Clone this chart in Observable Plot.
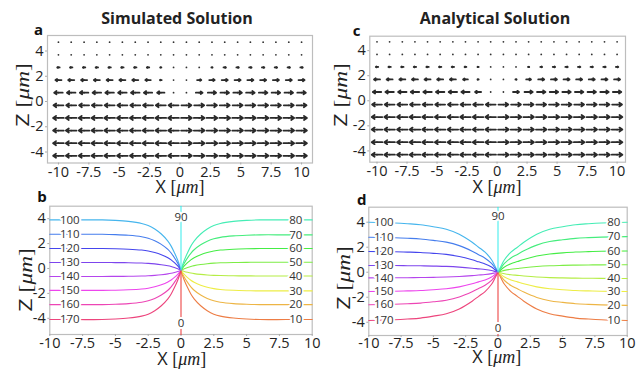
<!DOCTYPE html>
<html><head><meta charset="utf-8">
<script src="https://cdn.jsdelivr.net/npm/d3@7"></script>
<script src="https://cdn.jsdelivr.net/npm/@observablehq/plot@0.6"></script>
<style>
body{margin:0;background:#fff;}
#root{position:relative;width:636px;height:371px;overflow:hidden;background:#fff;}
#root svg{position:absolute;}
</style></head><body><div id="root"></div>
<script>
// ---------- data ----------
const xTicks = [-10, -7.5, -5, -2.5, 0, 2.5, 5, 7.5, 10];
const zTicks = [-4, -2, 0, 2, 4];

// quiver grid (panels a, c)
const quiverX = [-10, -8.95, -7.89, -6.84, -5.79, -4.74, -3.68, -2.63, -1.58, -0.53,
                 0.53, 1.58, 2.63, 3.68, 4.74, 5.79, 6.84, 7.89, 8.95, 10];
const quiverZ = [4.7, 3.7, 2.7, 1.7, 0.7, -0.3, -1.3, -2.3, -3.3, -4.3];

// horizontal field component (arrow length, x units) per row
const simU = [
  [0,0,0,0,0,0,0,0,0,0, 0,0,0,0,0,0,0,0,0,0],
  [0,0,0,0,0,0,0,0,0,0, 0,0,0,0,0,0,0,0,0,0],
  [-0.2,-0.2,-0.2,-0.2,-0.2,-0.2,-0.2,-0.2,-0.1,0, 0,0,0.1,0.2,0.2,0.2,0.2,0.2,0.2,0.2],
  [-0.5,-0.5,-0.5,-0.5,-0.5,-0.5,-0.5,-0.45,-0.15,0, 0,0.35,0.45,0.5,0.5,0.5,0.5,0.5,0.5,0.5],
  [-0.7,-0.7,-0.7,-0.7,-0.7,-0.7,-0.7,-0.68,-0.6,0, 0,0.55,0.68,0.7,0.7,0.7,0.7,0.7,0.7,0.7],
  [-0.82,-0.82,-0.82,-0.82,-0.82,-0.82,-0.82,-0.82,-0.82,-0.82, 0.82,0.82,0.82,0.82,0.82,0.82,0.82,0.82,0.82,0.82],
  [-0.88,-0.88,-0.88,-0.88,-0.88,-0.88,-0.88,-0.88,-0.88,-0.88, 0.88,0.88,0.88,0.88,0.88,0.88,0.88,0.88,0.88,0.88],
  [-0.88,-0.88,-0.88,-0.88,-0.88,-0.88,-0.88,-0.88,-0.88,-0.88, 0.88,0.88,0.88,0.88,0.88,0.88,0.88,0.88,0.88,0.88],
  [-0.88,-0.88,-0.88,-0.88,-0.88,-0.88,-0.88,-0.88,-0.88,-0.88, 0.88,0.88,0.88,0.88,0.88,0.88,0.88,0.88,0.88,0.88],
  [-0.88,-0.88,-0.88,-0.88,-0.88,-0.88,-0.88,-0.88,-0.88,-0.88, 0.88,0.88,0.88,0.88,0.88,0.88,0.88,0.88,0.88,0.88]
];
const anaU = [
  [0,0,0,0,0,0,0,0,0,0, 0,0,0,0,0,0,0,0,0,0],
  [0,0,0,0,0,0,0,0,0,0, 0,0,0,0,0,0,0,0,0,0],
  [-0.2,-0.2,-0.2,-0.2,-0.2,-0.2,-0.2,-0.15,-0.1,0, 0,0,0.1,0.15,0.2,0.2,0.2,0.2,0.2,0.2],
  [-0.5,-0.5,-0.5,-0.5,-0.5,-0.5,-0.5,-0.4,-0.1,0, 0,0.1,0.4,0.5,0.5,0.5,0.5,0.5,0.5,0.5],
  [-0.7,-0.7,-0.7,-0.7,-0.7,-0.7,-0.7,-0.68,-0.5,0, 0,0.5,0.68,0.7,0.7,0.7,0.7,0.7,0.7,0.7],
  [-0.82,-0.82,-0.82,-0.82,-0.82,-0.82,-0.82,-0.82,-0.82,-0.82, 0.82,0.82,0.82,0.82,0.82,0.82,0.82,0.82,0.82,0.82],
  [-0.88,-0.88,-0.88,-0.88,-0.88,-0.88,-0.88,-0.88,-0.88,-0.88, 0.88,0.88,0.88,0.88,0.88,0.88,0.88,0.88,0.88,0.88],
  [-0.88,-0.88,-0.88,-0.88,-0.88,-0.88,-0.88,-0.88,-0.88,-0.88, 0.88,0.88,0.88,0.88,0.88,0.88,0.88,0.88,0.88,0.88],
  [-0.88,-0.88,-0.88,-0.88,-0.88,-0.88,-0.88,-0.88,-0.88,-0.88, 0.88,0.88,0.88,0.88,0.88,0.88,0.88,0.88,0.88,0.88],
  [-0.88,-0.88,-0.88,-0.88,-0.88,-0.88,-0.88,-0.88,-0.88,-0.88, 0.88,0.88,0.88,0.88,0.88,0.88,0.88,0.88,0.88,0.88]
];

// iso-angle lines (panels b, d)
const curveAngles = [10, 20, 30, 40, 50, 60, 70, 80, 100, 110, 120, 130, 140, 150, 160, 170];
const simLevels = [-4.1, -2.9, -1.8, -0.6, 0.5, 1.6, 2.7, 3.9, 3.9, 2.75, 1.6, 0.48, -0.64, -1.76, -2.9, -4.1];
const anaLevels = [-3.86, -2.65, -1.54, -0.5, 0.6, 1.7, 2.85, 4.0, 4.0, 2.8, 1.66, 0.54, -0.45, -1.54, -2.6, -3.86];
const simCenterZ = -0.15;
const anaCenterZ = 0;
// read-off shape of a line: fraction of its final height reached at distance |x|
const simProfileX = [0, 0.1, 0.25, 0.5, 0.75, 1, 1.5, 2, 2.5, 3, 4, 5, 6, 8, 10];
const simProfileF = [0, 0.09, 0.2, 0.35, 0.48, 0.58, 0.72, 0.82, 0.89, 0.93, 0.97, 0.99, 1, 1, 1];
const anaProfileX = [0, 0.25, 0.5, 1, 1.5, 2, 3, 4, 5, 6, 7, 8, 10];
const anaProfileF = [0, 0.13, 0.25, 0.4, 0.5, 0.6, 0.76, 0.86, 0.91, 0.95, 0.97, 0.985, 1];
const verticalAngles = [0, 90];

// ---------- drawing ----------
const root = document.getElementById("root");
const FONT = "'Open Sans', sans-serif";
const fmt = d => String(d);

function place(svg, left, top) {
  svg.style.left = left + "px";
  svg.style.top = top + "px";
  root.appendChild(svg);
}

function axes(box) {
  return [
    Plot.frame({stroke: "#bdbdbd", strokeWidth: 1.2}),
    Plot.axisX({ticks: xTicks, tickFormat: fmt, tickSize: 2, tickPadding: box.px, label: null, stroke: "#aaa", fill: "#222", fontSize: 14.5}),
    Plot.axisY({ticks: zTicks, tickFormat: fmt, tickSize: 2, tickPadding: 2, label: null, stroke: "#aaa", fill: "#222", fontSize: 14.5})
  ];
}

function quiverPanel(U, box) {
  const cells = [];
  quiverZ.forEach((z, i) => quiverX.forEach((x, j) => cells.push({x, z, u: U[i][j]})));
  const arrows = cells.filter(d => d.u !== 0);
  return Plot.plot({
    width: box.w, height: box.h,
    marginLeft: box.ml, marginRight: box.mr, marginTop: box.mt, marginBottom: box.mb,
    x: {domain: box.xd},
    y: {domain: box.yd},
    style: {fontFamily: FONT, fontSize: "14.5px", background: "transparent", overflow: "visible"},
    marks: [
      ...axes(box),
      Plot.dot(cells, {x: "x", y: "z", r: 0.9, fill: "#333"}),
      Plot.arrow(arrows, {
        x1: d => d.x - d.u / 2, x2: d => d.x + d.u / 2, y1: "z", y2: "z",
        stroke: "#2a2a2a", strokeWidth: 1.8, headLength: 5, headAngle: 70
      })
    ]
  });
}

function hue(a) { return d3.hsl(2 * a, 0.82, 0.6).formatHex(); }

function linesPanel(levels, centerZ, profX, profF, lab, box) {
  const pts = [];
  curveAngles.forEach((a, k) => {
    const side = a < 90 ? 1 : -1;
    profX.forEach((px, i) => pts.push({angle: a, x: side * px, z: centerZ + (levels[k] - centerZ) * profF[i]}));
  });
  const verts = [];
  verticalAngles.forEach(a => {
    verts.push({angle: a, x: 0, z: centerZ});
    verts.push({angle: a, x: 0, z: a === 90 ? box.yd[1] : box.yd[0]});
  });
  const labels = curveAngles.map((a, k) => ({angle: a, x: a < 90 ? lab.right : lab.left, z: levels[k]}));
  labels.push({angle: 90, x: 0, z: lab.z90}, {angle: 0, x: 0, z: lab.z0});
  return Plot.plot({
    width: box.w, height: box.h,
    marginLeft: box.ml, marginRight: box.mr, marginTop: box.mt, marginBottom: box.mb,
    x: {domain: box.xd},
    y: {domain: box.yd},
    color: {type: "identity"},
    style: {fontFamily: FONT, fontSize: "14.5px", background: "transparent", overflow: "visible"},
    marks: [
      ...axes(box),
      Plot.line(pts, {x: "x", y: "z", z: "angle", stroke: d => hue(d.angle), strokeWidth: 1.1, curve: "catmull-rom"}),
      Plot.line(verts, {x: "x", y: "z", z: "angle", stroke: d => hue(d.angle), strokeWidth: 1.1}),
      Plot.text(labels, {x: "x", y: "z", text: d => String(d.angle), fill: "#333", stroke: "white",
        strokeWidth: 4, paintOrder: "stroke", fontSize: 11.5, fontFamily: FONT})
    ]
  });
}

place(quiverPanel(simU, {w: 318, h: 185, ml: 47, mr: 6, mt: 35, mb: 22.5, xd: [-10.9, 10.9], yd: [-4.87, 5.23], px: 2}), 0, 0);
place(quiverPanel(anaU, {w: 318, h: 185, ml: 51.3, mr: 11, mt: 35.7, mb: 23.3, xd: [-10.6, 10.7], yd: [-4.9, 5.15], px: 2}), 318, 0);
place(linesPanel(simLevels, simCenterZ, simProfileX, simProfileF, {left: -8.48, right: 8.75, z90: 4.08, z0: -4.4},
  {w: 318, h: 186, ml: 49.3, mr: 6.3, mt: 20.7, mb: 37, xd: [-10, 10], yd: [-5.3, 5.0], px: 0.8}), 0, 185);
place(linesPanel(anaLevels, anaCenterZ, anaProfileX, anaProfileF, {left: -8.84, right: 8.96, z90: 4.5, z0: -4.5},
  {w: 318, h: 186, ml: 50.3, mr: 9.3, mt: 21.7, mb: 36, xd: [-10, 10], yd: [-5.06, 5.2], px: 0.2}), 318, 185);

// ---------- titles, panel letters, axis labels ----------
const ov = d3.create("svg").attr("width", 636).attr("height", 371)
  .style("left", "0px").style("top", "0px").style("pointer-events", "none");
const titles = [
  {t: "Simulated Solution", x: 177, y: 24},
  {t: "Analytical Solution", x: 495, y: 24}
];
ov.selectAll("text.title").data(titles).join("text")
  .attr("x", d => d.x).attr("y", d => d.y).attr("text-anchor", "middle")
  .attr("font-family", FONT).attr("font-weight", "bold").attr("font-size", 16).attr("fill", "#222")
  .text(d => d.t);
const letters = [
  {t: "a", x: 38.5, y: 34.5}, {t: "c", x: 356.7, y: 35.5},
  {t: "b", x: 42, y: 202}, {t: "d", x: 361.7, y: 205}
];
ov.selectAll("text.letter").data(letters).join("text")
  .attr("x", d => d.x).attr("y", d => d.y).attr("text-anchor", "middle")
  .attr("font-family", FONT).attr("font-weight", "bold").attr("font-size", 15).attr("fill", "#111")
  .text(d => d.t);

function axisLabel(letter, x, y, rotate) {
  const t = ov.append("text").attr("text-anchor", "middle").attr("fill", "#222").attr("font-size", 18)
    .attr("transform", `translate(${x},${y})` + (rotate ? " rotate(-90) scale(1.3,1)" : ""));
  t.append("tspan").attr("font-family", FONT).text(letter + " ");
  t.append("tspan").attr("font-family", "'Liberation Serif', serif").text("[");
  t.append("tspan").attr("font-family", "'Liberation Serif', serif").attr("font-style", "italic").text("μm");
  t.append("tspan").attr("font-family", "'Liberation Serif', serif").text("]");
}
axisLabel("X", 180, 193, false);
axisLabel("X", 497, 193, false);
axisLabel("X", 181.7, 365, false);
axisLabel("X", 496.7, 363, false);
axisLabel("Z", 29, 95, true);
axisLabel("Z", 347, 95, true);
axisLabel("Z", 31.5, 280, true);
axisLabel("Z", 349.5, 278, true);

root.appendChild(ov.node());
</script>
</body></html>
